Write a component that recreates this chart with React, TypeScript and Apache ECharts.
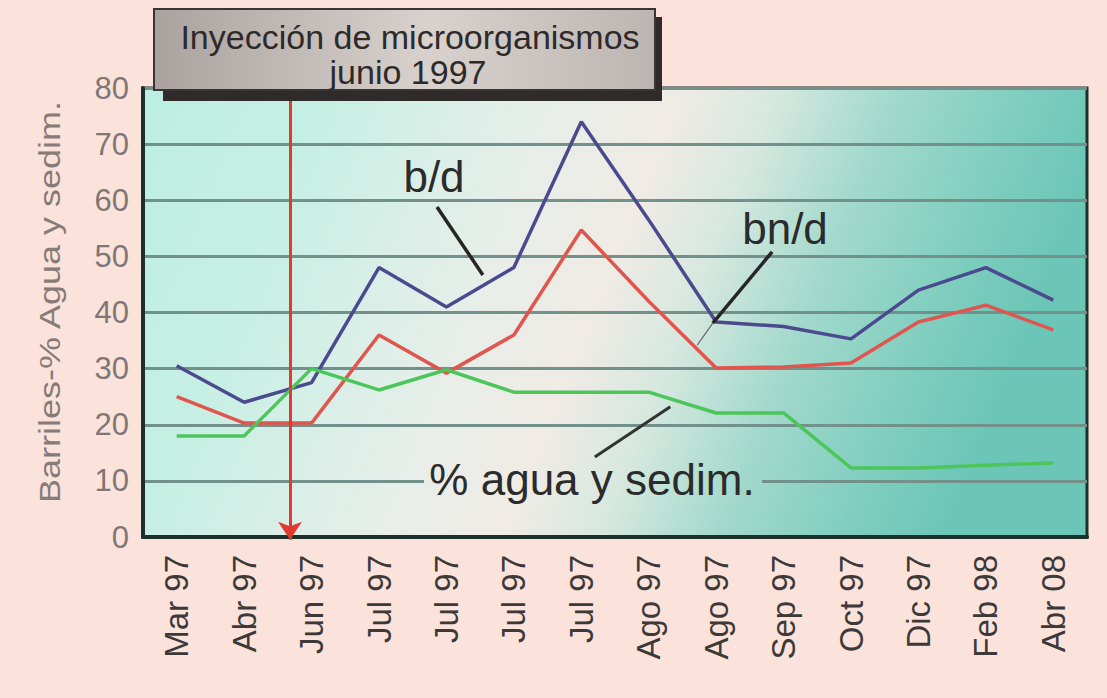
import React, { useEffect, useRef } from 'react';
import * as echarts from 'echarts';

// ---- Data ----
const categories = ['Mar 97', 'Abr 97', 'Jun 97', 'Jul 97', 'Jul 97', 'Jul 97', 'Jul 97', 'Ago 97', 'Ago 97', 'Sep 97', 'Oct 97', 'Dic 97', 'Feb 98', 'Abr 08'];
const bdValues = [30.5, 24, 27.5, 48, 41, 48, 74, 56.5, 38.3, 37.5, 35.3, 44, 48, 42.2];
const bndValues = [25, 20.3, 20.3, 36, 29.2, 36, 54.7, 42, 30.1, 30.3, 31, 38.3, 41.3, 36.9];
const aguaValues = [18, 18, 30, 26.2, 29.8, 25.8, 25.8, 25.8, 22.1, 22.1, 12.3, 12.3, 12.8, 13.2];
const yMin = 0;
const yMax = 80;
const yInterval = 10;

// position (in category-index units) of the injection arrow, and pointer segments (index, value)
const injectionPos = 1.68;
const bdPointer = [[3.86, 58.8], [4.54, 46.7]];
const bndPointer = [[8.83, 50.8], [7.95, 38.1]];
const bndPointerTail = [[7.95, 38.1], [7.72, 34.2]];
const aguaPointer = [[6.2, 14.25], [7.32, 23.2]];

const FONT = '"Liberation Sans", Arial, sans-serif';

export default function App() {
  const ref = useRef<HTMLDivElement>(null);
  useEffect(() => {
    if (!ref.current) return;
    const chart = echarts.init(ref.current, undefined, { renderer: 'svg' });
    const bgStops = [
      { offset: 0, color: '#bdeee2' },
      { offset: 0.18, color: '#c6efe4' },
      { offset: 0.3, color: '#d6efe7' },
      { offset: 0.42, color: '#e7eee9' },
      { offset: 0.55, color: '#f0ebe5' },
      { offset: 0.65, color: '#d6e8df' },
      { offset: 0.77, color: '#a2d9cc' },
      { offset: 0.9, color: '#80cebf' },
      { offset: 1, color: '#6cc6b7' },
    ];
    const plotBg = new echarts.graphic.LinearGradient(143, 88, 987, 425, bgStops, true);
    const gapBg = new echarts.graphic.LinearGradient(143, 88, 987, 425, bgStops, true);
    const boxBg = new echarts.graphic.LinearGradient(0, 0, 1, 0, [
      { offset: 0, color: '#aaa29f' },
      { offset: 0.55, color: '#d8d1cd' },
      { offset: 1, color: '#bdb5b1' },
    ]);
    const option: any = {
      animation: false,
      backgroundColor: '#fbe3dc',
      textStyle: { fontFamily: FONT },
      grid: {
        left: 143, top: 88, width: 944, height: 449,
        show: true, backgroundColor: plotBg, borderColor: '#1d2f2b', borderWidth: 3,
      },
      xAxis: [
        {
          type: 'category', data: categories, boundaryGap: true,
          axisLine: { onZero: false, lineStyle: { color: '#1d2f2b', width: 4 } },
          axisTick: { inside: true, length: 10, lineStyle: { color: '#1d3a34', width: 2 } },
          axisLabel: { rotate: 90, interval: 0, fontSize: 33, color: '#3d3938', margin: 18, fontFamily: FONT },
          splitLine: { show: false },
        },
        { type: 'value', min: -0.5, max: 13.5, show: false },
      ],
      yAxis: {
        type: 'value', min: yMin, max: yMax, interval: yInterval,
        axisLine: { show: true, onZero: false, lineStyle: { color: '#1d2f2b', width: 4 } },
        axisTick: { show: false },
        axisLabel: { fontSize: 31, color: '#807674', margin: 14, fontFamily: FONT },
        splitLine: { lineStyle: { color: '#72918a', width: 3 } },
      },
      series: [
        { name: 'b/d', type: 'line', data: bdValues, symbol: 'none', lineStyle: { color: '#4b4a8e', width: 3.5 }, z: 3 },
        { name: 'bn/d', type: 'line', data: bndValues, symbol: 'none', lineStyle: { color: '#e0564e', width: 3.5 }, z: 3 },
        { name: '% agua y sedim.', type: 'line', data: aguaValues, symbol: 'none', lineStyle: { color: '#4cc65a', width: 3.5 }, z: 4 },
        {
          type: 'lines', coordinateSystem: 'cartesian2d', xAxisIndex: 1, yAxisIndex: 0, clip: false, z: 5,
          symbol: ['none', 'none'],
          lineStyle: { color: '#262626', width: 3.5, opacity: 1 },
          data: [
            { coords: bdPointer },
            { coords: bndPointer },
            { coords: bndPointerTail, lineStyle: { width: 1.2, color: '#6a6a6a' } },
            { coords: aguaPointer, lineStyle: { width: 3, color: '#333' } },
          ],
        },
        {
          type: 'lines', coordinateSystem: 'cartesian2d', xAxisIndex: 1, yAxisIndex: 0, clip: false, z: 6,
          symbol: ['none', 'arrow'], symbolSize: [0, 18],
          lineStyle: { color: '#e23a30', width: 3, opacity: 1 },
          data: [{ coords: [[injectionPos, yMax], [injectionPos, yMin - 0.5]] }],
        },
      ],
      graphic: [
        {
          type: 'text', x: 50, y: 302, rotation: Math.PI / 2, scaleX: 1.2, z: 10,
          style: { text: 'Barriles-% Agua y sedim.', font: '30px ' + FONT, fill: '#877b78', align: 'center', verticalAlign: 'middle' },
        },
        { type: 'rect', z: 1, shape: { x: 424, y: 475, width: 338, height: 11 }, style: { fill: gapBg } },
        {
          type: 'text', x: 592, y: 479, z: 10,
          style: { text: '% agua y sedim.', font: '44px ' + FONT, fill: '#2b2b2b', align: 'center', verticalAlign: 'middle' },
        },
        {
          type: 'text', x: 434, y: 176, z: 10,
          style: { text: 'b/d', font: '44px ' + FONT, fill: '#2b2b2b', align: 'center', verticalAlign: 'middle' },
        },
        {
          type: 'text', x: 785, y: 228, z: 10,
          style: { text: 'bn/d', font: '44px ' + FONT, fill: '#2b2b2b', align: 'center', verticalAlign: 'middle' },
        },
        { type: 'rect', z: 20, shape: { x: 163, y: 17, width: 499, height: 84 }, style: { fill: '#2f2b2b' } },
        { type: 'rect', z: 21, shape: { x: 154, y: 9, width: 501, height: 81 }, style: { fill: boxBg, stroke: '#3a3535', lineWidth: 2 } },
        {
          type: 'text', x: 410, y: 37, z: 22,
          style: { text: 'Inyección de microorganismos', font: '34px ' + FONT, fill: '#2e2a2a', align: 'center', verticalAlign: 'middle' },
        },
        {
          type: 'text', x: 408, y: 72, z: 22,
          style: { text: 'junio 1997', font: '34px ' + FONT, fill: '#2e2a2a', align: 'center', verticalAlign: 'middle' },
        },
      ],
    };
    chart.setOption(option);
    return () => chart.dispose();
  }, []);
  return <div ref={ref} style={{ position: 'absolute', left: 0, top: 0, width: 1107, height: 698 }} />;
}
